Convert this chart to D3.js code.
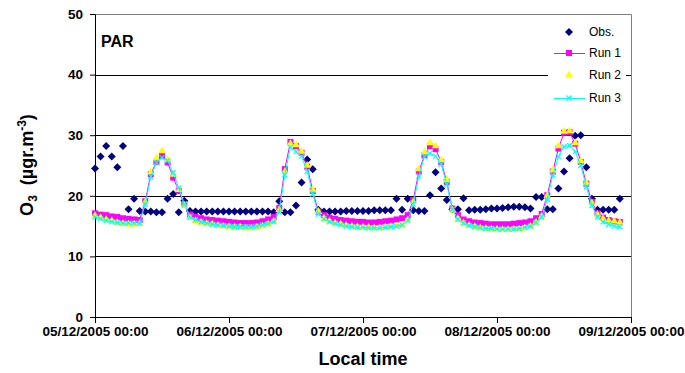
<!DOCTYPE html>
<html>
<head>
<meta charset="utf-8">
<script src="https://cdn.jsdelivr.net/npm/d3@7"></script>
<style>
body{margin:0;background:#fff;}
text{font-family:"Liberation Sans",Arial,sans-serif;}
</style>
</head>
<body>
<div id="chart"></div>
<script>
// hourly O3 at PAR, 05/12/2005 00:00 onwards
var startDay = Date.UTC(2005,11,5)
var endDay = Date.UTC(2005,11,9)
var dayTicks = [Date.UTC(2005,11,5),Date.UTC(2005,11,6),Date.UTC(2005,11,7),Date.UTC(2005,11,8),Date.UTC(2005,11,9)]
var yTicks = [0,10,20,30,40,50]

var obs = [24.5,26.5,28.2,26.5,24.7,28.2,17.8,19.5,17.5,17.4,17.4,17.3,17.3,19.5,20.3,17.3,19.2,17.5,
	17.4,17.4,17.4,17.4,17.4,17.4,17.4,17.4,17.4,17.4,17.4,17.4,17.4,17.4,17.3,19.1,17.3,17.3,18.4,22.2,26.0,24.4,17.7,
	17.4,17.4,17.4,17.4,17.5,17.5,17.5,17.5,17.5,17.6,17.6,17.6,17.6,19.5,17.7,19.5,17.6,17.5,17.5,20.1,23.9,21.2,19.3,17.8,
	17.8,19.6,17.6,17.7,17.7,17.8,17.9,17.9,18.0,18.1,18.2,18.2,18.1,17.9,19.8,19.8,17.8,17.8,21.2,24.0,26.2,29.9,30.0,24.7,
	19.5,17.7,17.7,17.7,17.7,19.5]

var run1 = [17.1,16.9,16.8,16.6,16.5,16.3,16.2,16.1,16.0,19.1,23.6,25.6,26.6,25.5,23.0,20.8,18.6,16.9,
	16.5,16.3,16.1,16.0,15.9,15.8,15.7,15.6,15.5,15.5,15.5,15.6,15.8,16.1,16.5,18.0,24.4,28.9,28.2,27.1,24.8,20.8,17.4,
	16.8,16.4,16.2,16.0,15.9,15.8,15.7,15.7,15.6,15.6,15.7,15.8,15.9,16.1,16.3,16.8,19.3,24.0,26.7,28.2,27.7,25.6,22.3,17.9,
	16.8,16.1,15.8,15.6,15.5,15.4,15.3,15.3,15.3,15.3,15.4,15.5,15.6,15.8,16.3,17.0,20.1,24.0,27.8,30.4,30.5,28.6,25.6,22.0,
	19.0,17.1,16.4,16.0,15.8,15.7]

var run2 = [16.7,16.4,16.1,15.9,15.6,15.4,15.3,15.3,15.4,19.0,23.9,26.2,27.4,26.0,23.5,21.0,18.4,16.4,
	15.9,15.6,15.4,15.3,15.1,15.0,14.9,14.8,14.8,14.7,14.7,14.8,15.0,15.3,15.8,17.7,24.0,28.6,28.4,27.3,25.0,21.0,17.4,
	16.3,15.8,15.5,15.3,15.1,15.0,14.9,14.8,14.8,14.7,14.7,14.8,14.9,15.0,15.2,16.0,19.0,24.4,27.2,28.7,28.2,25.9,22.6,17.6,
	16.2,15.5,15.1,14.9,14.7,14.6,14.5,14.5,14.4,14.4,14.5,14.5,14.7,15.0,15.6,16.6,20.0,24.2,28.2,30.6,30.7,28.7,25.8,22.1,
	18.8,16.9,16.2,15.9,15.8,15.6]

var run3 = [16.5,16.2,15.9,15.7,15.6,15.5,15.5,15.5,15.5,18.6,23.2,25.5,26.3,25.8,23.8,21.3,18.6,16.5,
	16.0,15.7,15.5,15.3,15.2,15.1,15.0,14.9,14.9,14.9,14.9,15.0,15.2,15.4,15.7,17.3,23.5,28.0,27.3,26.5,24.0,20.3,17.0,
	16.2,15.7,15.4,15.2,15.0,14.9,14.8,14.8,14.7,14.7,14.7,14.8,14.9,15.0,15.2,15.9,18.6,23.3,26.5,27.0,26.5,25.2,21.9,17.8,
	16.1,15.5,15.1,14.9,14.7,14.6,14.6,14.5,14.5,14.5,14.5,14.6,14.8,15.0,15.6,16.5,19.4,23.4,26.5,28.1,28.3,27.3,25.0,21.5,
	18.4,16.5,15.7,15.3,15.0,14.9]

var seriesNames = ["Obs.","Run 1","Run 2","Run 3"]

var margin = {top: 14, right: 54, bottom: 56, left: 95}
var W = 685, H = 373
var w = W-margin.left-margin.right
var h = H-margin.top-margin.bottom

var hourMs = 3600*1000
function toData(arr){
	return arr.map(function(v,i){return {t: new Date(startDay+i*hourMs), v: v}})
}

var x = d3.scaleUtc().domain([startDay,endDay]).range([0,w])
var y = d3.scaleLinear().domain([0,50]).range([h,0])
var fmt = d3.utcFormat("%d/%m/%Y %H:%M")

var svg = d3.select("#chart").append("svg")
	.attr("width",W)
	.attr("height",H)

var g = svg.append("g")
	.attr("transform","translate("+margin.left+","+margin.top+")")

// gridlines
g.selectAll(".grid")
	.data([10,20,30,40])
	.enter().append("line")
	.attr("x1",0).attr("x2",w)
	.attr("y1",function(d){return Math.round(y(d))+0.5})
	.attr("y2",function(d){return Math.round(y(d))+0.5})
	.attr("stroke","#000")
	.attr("stroke-width",1)

// plot border top/right
g.append("path")
	.attr("d","M0,0.5H"+(w+0.5)+"V"+h)
	.attr("fill","none")
	.attr("stroke","#808080")

var yAxis = d3.axisLeft(y).tickValues(yTicks).tickSize(5).tickPadding(7)
var xAxis = d3.axisBottom(x).tickValues(dayTicks.map(function(d){return new Date(d)})).tickSize(6).tickPadding(3).tickFormat(fmt)

g.append("g").attr("class","y_axis").call(yAxis)
g.append("g").attr("class","x_axis").attr("transform","translate(0,"+h+")").call(xAxis)

g.selectAll(".y_axis text, .x_axis text")
	.style("font-size","13.5px")
	.style("font-weight","bold")
	.attr("fill","#000")
g.selectAll(".y_axis path, .y_axis line, .x_axis path, .x_axis line").attr("stroke","#000")

// series
var line = d3.line().x(function(d){return x(d.t)}).y(function(d){return y(d.v)})
var diamond = "M0,-4L4,0L0,4L-4,0Z"

g.selectAll(".obs")
	.data(toData(obs))
	.enter().append("path")
	.attr("class","obs")
	.attr("d",diamond)
	.attr("transform",function(d){return "translate("+x(d.t)+","+y(d.v)+")"})
	.attr("fill","#000080")

g.append("path")
	.datum(toData(run1))
	.attr("d",line)
	.attr("fill","none")
	.attr("stroke","#FF00FF")
	.attr("stroke-width",1)
g.selectAll(".r1")
	.data(toData(run1))
	.enter().append("rect")
	.attr("class","r1")
	.attr("x",function(d){return x(d.t)-3})
	.attr("y",function(d){return y(d.v)-3})
	.attr("width",6).attr("height",6)
	.attr("fill","#FF00FF")

var tri = d3.symbol().type(d3.symbolTriangle).size(26)
g.selectAll(".r2")
	.data(toData(run2))
	.enter().append("path")
	.attr("class","r2")
	.attr("d",tri)
	.attr("transform",function(d){return "translate("+x(d.t)+","+y(d.v)+")"})
	.attr("fill","#FFFF00")

g.append("path")
	.datum(toData(run3))
	.attr("d",line)
	.attr("fill","none")
	.attr("stroke","#00FFFF")
	.attr("stroke-width",1)
g.selectAll(".r3")
	.data(toData(run3))
	.enter().append("path")
	.attr("class","r3")
	.attr("d","M-2.5,-2.5L2.5,2.5M-2.5,2.5L2.5,-2.5")
	.attr("transform",function(d){return "translate("+x(d.t)+","+y(d.v)+")"})
	.attr("stroke","#00FFFF")
	.attr("stroke-width",1.2)

// station label
svg.append("text")
	.attr("x",101).attr("y",47)
	.style("font-size","16px").style("font-weight","bold")
	.text("PAR")

// legend
var leg = svg.append("g")
leg.append("rect").attr("x",548).attr("y",18).attr("width",78).attr("height",92).attr("fill","#fff")
var legY = [32,53,75,98]
leg.selectAll(".lt")
	.data(seriesNames)
	.enter().append("text")
	.attr("x",589)
	.attr("y",function(d,i){return legY[i]})
	.attr("dy","0.35em")
	.style("font-size","12px")
	.text(function(d){return d})
leg.append("path").attr("d",diamond).attr("transform","translate(569,"+legY[0]+")").attr("fill","#000080")
leg.append("line").attr("x1",554).attr("x2",585).attr("y1",legY[1]+0.5).attr("y2",legY[1]+0.5).attr("stroke","#FF00FF")
leg.append("rect").attr("x",566).attr("y",legY[1]-3).attr("width",6).attr("height",6).attr("fill","#FF00FF")
leg.append("path").attr("d",tri).attr("transform","translate(569,"+legY[2]+")").attr("fill","#FFFF00")
leg.append("line").attr("x1",554).attr("x2",585).attr("y1",legY[3]+0.5).attr("y2",legY[3]+0.5).attr("stroke","#00FFFF")
leg.append("path").attr("d","M-2.5,-2.5L2.5,2.5M-2.5,2.5L2.5,-2.5").attr("transform","translate(569,"+legY[3]+")").attr("stroke","#00FFFF").attr("stroke-width",1.2)

// axis titles
svg.append("text")
	.attr("x",margin.left+w/2).attr("y",365)
	.style("text-anchor","middle")
	.style("font-size","18px").style("font-weight","bold")
	.text("Local time")

var yt = svg.append("text")
	.attr("transform","translate(33,165) rotate(-90)")
	.style("text-anchor","middle")
	.style("font-size","18px").style("font-weight","bold")
	.style("white-space","pre")
yt.append("tspan").text("O")
yt.append("tspan").attr("dy",4).style("font-size","12px").text("3")
yt.append("tspan").attr("dy",-4).text("  (\u00b5gr.m")
yt.append("tspan").attr("dy",-7).style("font-size","12px").text("-3")
yt.append("tspan").attr("dy",7).text(")")
</script>
</body>
</html>
